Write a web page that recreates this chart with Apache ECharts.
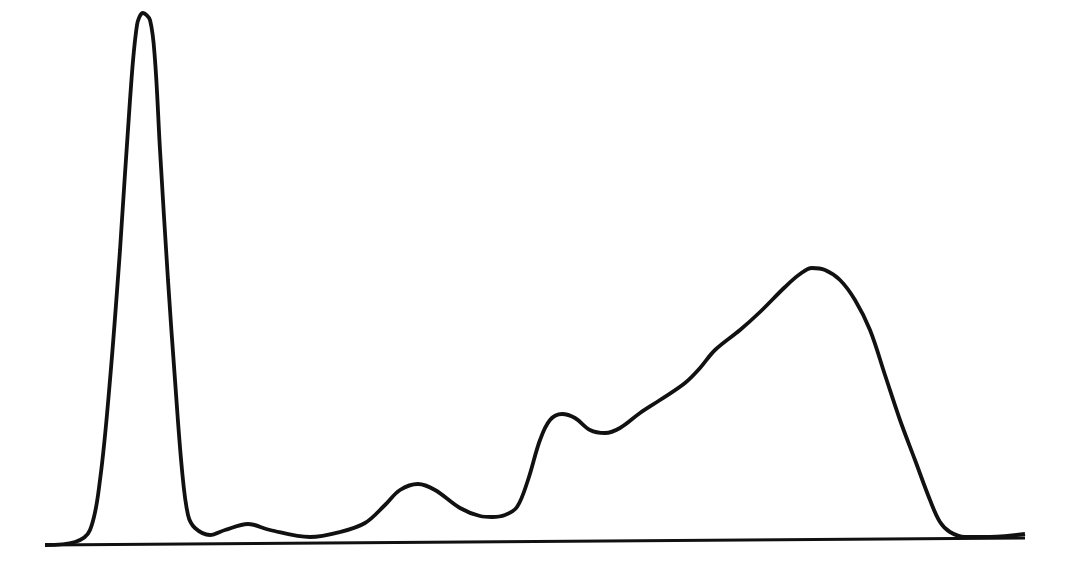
<!DOCTYPE html>
<html>
<head>
<meta charset="utf-8">
<style>html,body{margin:0;padding:0;background:#fff;}#c{width:1079px;height:567px;}</style>
<script src="https://cdn.jsdelivr.net/npm/echarts@6/dist/echarts.min.js"></script>
</head>
<body>
<div id="c"></div>
<script>
// position along trace (arbitrary units) and signal height
const positions = [45,75,90,100,110,120,130,137,143,150,155,160,168,175,182,188,195,210,225,248,270,310,340,365,385,400,418,435,460,480,492,505,517,528,540,550,562,575,590,605,620,640,660,685,700,715,740,760,785,800,812,825,840,855,870,885,900,915,930,940,950,965,990,1025];
const signal = [22,25,37,87,187,317,467,542,554,547,507,417,287,187,97,52,39,32,37,43,37,30,35,44,62,77,83,77,59,51,50,52,60,87,127,147,153,149,137,134,139,154,167,184,199,217,237,255,280,293,299,297,287,267,237,192,147,107,67,45,35,30,30,33];
const baselineX = [45,1025];
const baselineY = [22,29];

const chart = echarts.init(document.getElementById('c'));
chart.setOption({
  animation:false,
  backgroundColor:'#fff',
  grid:{left:0,right:0,top:0,bottom:0},
  xAxis:{type:'value',min:0,max:1079,show:false},
  yAxis:{type:'value',min:0,max:567,show:false},
  series:[
    {type:'line',data:baselineX.map((x,i)=>[x,baselineY[i]]),symbol:'none',
     lineStyle:{color:'#111',width:2.8}},
    {type:'line',data:positions.map((x,i)=>[x,signal[i]]),symbol:'none',smooth:0.35,
     lineStyle:{color:'#111',width:3.8}}
  ]
});
</script>
</body>
</html>
